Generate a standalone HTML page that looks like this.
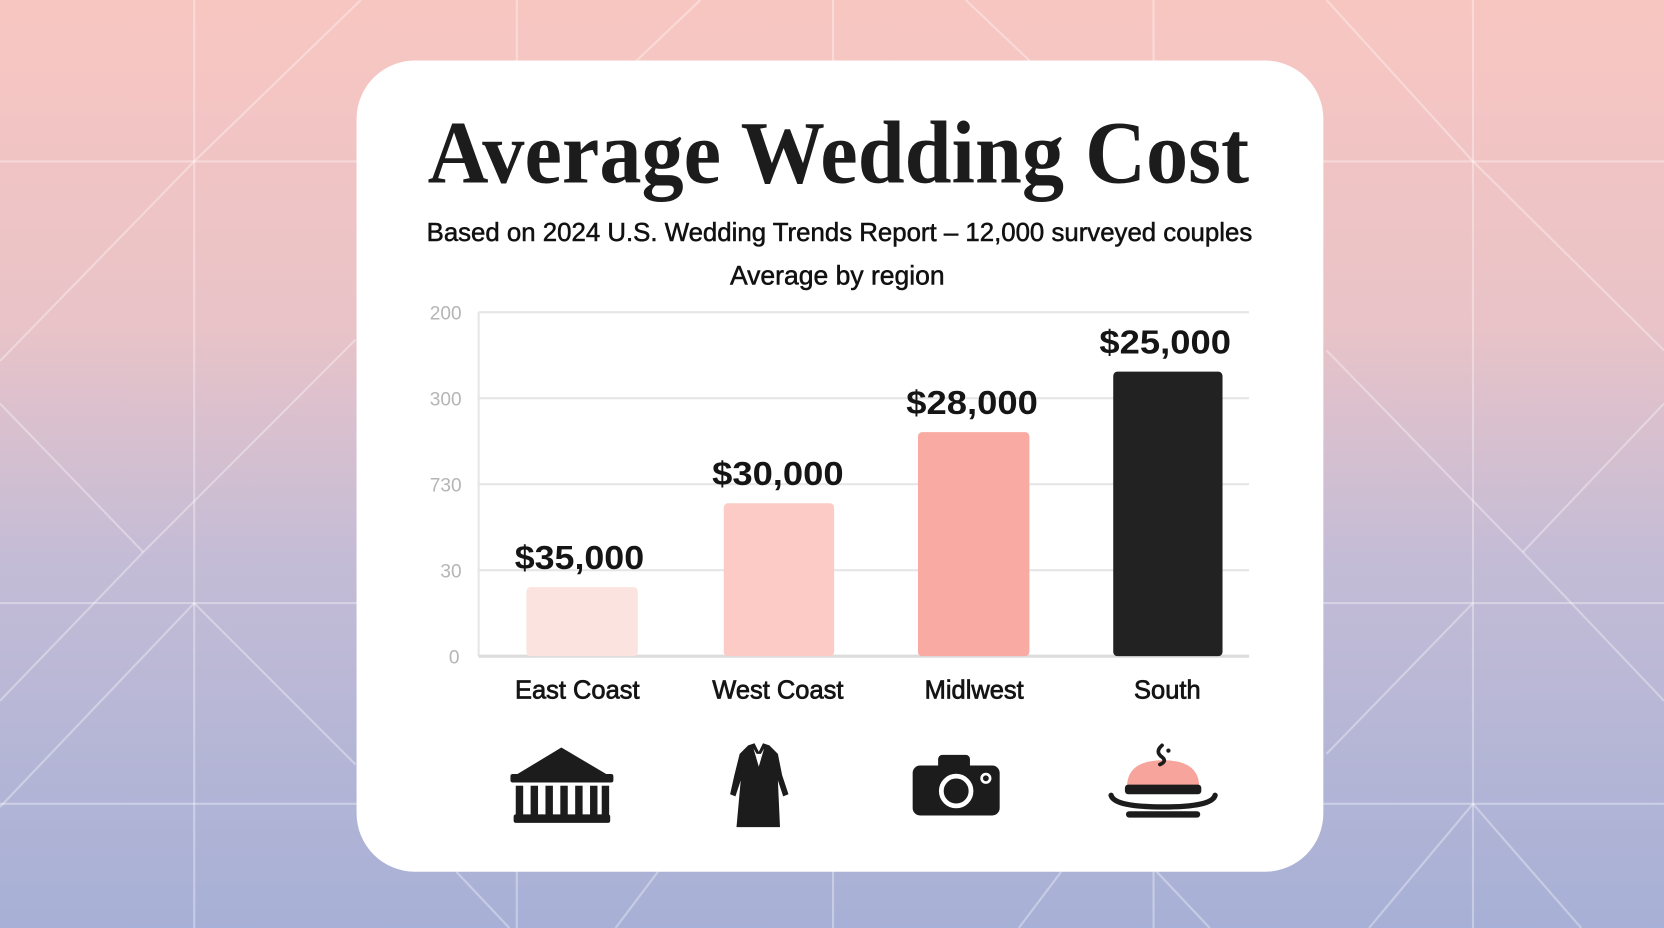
<!DOCTYPE html>
<html><head><meta charset="utf-8"><style>
html,body{margin:0;padding:0;width:1664px;height:928px;overflow:hidden}
svg{display:block}
</style></head><body>
<svg width="1664" height="928" viewBox="0 0 1568 874" preserveAspectRatio="none" xmlns="http://www.w3.org/2000/svg">
<defs>
<linearGradient id="bg" x1="0" y1="0" x2="0" y2="1">
<stop offset="0" stop-color="#f8c6c1"/>
<stop offset="0.35" stop-color="#e9c3c8"/>
<stop offset="0.6" stop-color="#c4bcd6"/>
<stop offset="1" stop-color="#a7b0d6"/>
</linearGradient>
</defs>
<rect width="1568" height="874" fill="url(#bg)"/>
<g stroke="#ffffff" stroke-opacity="0.35" stroke-width="2" fill="none">
<line x1="183" y1="0" x2="183" y2="874"/>
<line x1="487" y1="0" x2="487" y2="874"/>
<line x1="785" y1="0" x2="785" y2="874"/>
<line x1="1087" y1="0" x2="1087" y2="874"/>
<line x1="1388" y1="0" x2="1388" y2="874"/>
<line x1="0" y1="152" x2="1568" y2="152"/>
<line x1="0" y1="568" x2="1568" y2="568"/>
<line x1="0" y1="757" x2="1568" y2="757"/>
<line x1="0" y1="340" x2="183" y2="152"/>
<line x1="183" y1="152" x2="340" y2="0"/>
<line x1="0" y1="380" x2="135" y2="520"/>
<line x1="135" y1="520" x2="0" y2="660"/>
<line x1="135" y1="520" x2="335" y2="320"/>
<line x1="183" y1="568" x2="335" y2="720"/>
<line x1="183" y1="568" x2="0" y2="760"/>
<line x1="1388" y1="152" x2="1568" y2="330"/>
<line x1="1250" y1="0" x2="1388" y2="152"/>
<line x1="1250" y1="330" x2="1435" y2="520"/>
<line x1="1435" y1="520" x2="1568" y2="380"/>
<line x1="1435" y1="520" x2="1568" y2="660"/>
<line x1="1388" y1="568" x2="1250" y2="710"/>
<line x1="1388" y1="757" x2="1290" y2="874"/>
<line x1="1388" y1="757" x2="1490" y2="874"/>
<line x1="600" y1="57" x2="660" y2="0"/>
<line x1="910" y1="0" x2="970" y2="57"/>
<line x1="430" y1="821" x2="480" y2="874"/>
<line x1="580" y1="874" x2="620" y2="821"/>
<line x1="960" y1="874" x2="1000" y2="821"/>
<line x1="1090" y1="821" x2="1140" y2="874"/>
</g>
<rect x="336" y="57" width="911" height="764" rx="55" fill="#ffffff"/>
<text x="403" y="172" textLength="774" lengthAdjust="spacingAndGlyphs" font-family="Liberation Serif, serif" font-weight="700" font-size="84" fill="#1c1c1c">Average Wedding Cost</text>
<text x="402" y="227" textLength="778" lengthAdjust="spacingAndGlyphs" font-family="Liberation Sans, sans-serif" font-size="24" fill="#111" stroke="#111" stroke-width="0.5">Based on 2024 U.S. Wedding Trends Report – 12,000 surveyed couples</text>
<text x="789" y="268" text-anchor="middle" font-family="Liberation Sans, sans-serif" font-size="25" fill="#111" stroke="#111" stroke-width="0.5">Average by region</text>
<g stroke="#e6e6e6" stroke-width="2">
<line x1="451" y1="294" x2="1177" y2="294"/>
<line x1="451" y1="375" x2="1177" y2="375"/>
<line x1="451" y1="456" x2="1177" y2="456"/>
<line x1="451" y1="537" x2="1177" y2="537"/>
<line x1="451" y1="294" x2="451" y2="618"/>
</g>
<line x1="451" y1="618" x2="1177" y2="618" stroke="#dcdcdc" stroke-width="3"/>
<g font-family="Liberation Sans, sans-serif" font-size="18" fill="#b5b5b5" text-anchor="end">
<text x="435" y="301">200</text>
<text x="435" y="382">300</text>
<text x="435" y="463">730</text>
<text x="435" y="544">30</text>
<text x="433" y="625">0</text>
</g>
<rect x="496" y="553" width="105" height="65" rx="4" fill="#fbe3df"/>
<rect x="682" y="474" width="104" height="144" rx="4" fill="#fccbc6"/>
<rect x="865" y="407" width="105" height="211" rx="4" fill="#f9aba3"/>
<rect x="1049" y="350" width="103" height="268" rx="4" fill="#222222"/>
<g font-family="Liberation Sans, sans-serif" font-weight="700" font-size="31" fill="#151515" text-anchor="middle">
<text x="546" y="536" textLength="122" lengthAdjust="spacingAndGlyphs">$35,000</text>
<text x="733" y="457" textLength="124" lengthAdjust="spacingAndGlyphs">$30,000</text>
<text x="916" y="390" textLength="124" lengthAdjust="spacingAndGlyphs">$28,000</text>
<text x="1098" y="333" textLength="124" lengthAdjust="spacingAndGlyphs">$25,000</text>
</g>
<g font-family="Liberation Sans, sans-serif" font-size="24" fill="#151515" stroke="#151515" stroke-width="0.7" text-anchor="middle">
<text x="544" y="658">East Coast</text>
<text x="733" y="658">West Coast</text>
<text x="918" y="658">Midlwest</text>
<text x="1100" y="658">South</text>
</g>
<g fill="#1c1c1c">
<polygon points="481,733 529,704 578,733"/>
<rect x="481" y="729" width="97" height="8" rx="2"/>
<rect x="486" y="740" width="7" height="28"/>
<rect x="500" y="740" width="7" height="28"/>
<rect x="514" y="740" width="7" height="28"/>
<rect x="528" y="740" width="7" height="28"/>
<rect x="542" y="740" width="7" height="28"/>
<rect x="556" y="740" width="7" height="28"/>
<rect x="567" y="740" width="7" height="28"/>
<rect x="484" y="767" width="91" height="8" rx="2"/>
</g>
<path fill="#1c1c1c" d="M705,702 L711,700 L715,708 L719,700 L725,702 L733,710 L737,730 L743,748 L738,750 L733,735 L735,779 L694,779 L698,735 L693,750 L688,748 L692,730 L697,710 Z"/>
<path fill="#fff" d="M710,705 L715,722 L720,705 L717,710 L713,710 Z"/>
<g>
<rect x="884" y="711" width="30" height="16" rx="4" fill="#1c1c1c"/>
<rect x="860" y="721" width="82" height="47" rx="7" fill="#1c1c1c"/>
<circle cx="901" cy="745" r="14" fill="none" stroke="#fff" stroke-width="4.5"/>
<circle cx="929" cy="733" r="4" fill="none" stroke="#fff" stroke-width="2.5"/>
</g>
<g>
<path d="M1062,741 Q1062,716 1096,716 Q1130,716 1130,741 Z" fill="#f7a59c"/>
<rect x="1060" y="739" width="72" height="9" rx="3" fill="#1c1c1c"/>
<path d="M1047,749 Q1050,760 1096,760 Q1142,760 1145,749" fill="none" stroke="#1c1c1c" stroke-width="5" stroke-linecap="round"/>
<rect x="1061" y="764" width="70" height="6" rx="3" fill="#1c1c1c"/>
<path d="M1095,702 Q1088,708 1095,713 Q1100,717 1093,720" fill="none" stroke="#1c1c1c" stroke-width="3.5" stroke-linecap="round"/>
<circle cx="1101" cy="707" r="2" fill="#1c1c1c"/>
</g>
</svg>
</body></html>
